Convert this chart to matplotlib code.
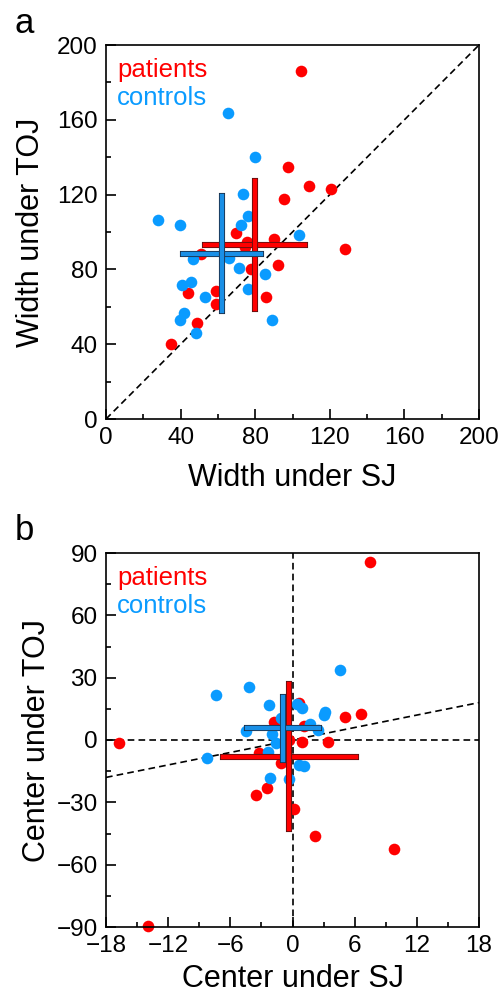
import numpy as np
import matplotlib
matplotlib.use("Agg")
import matplotlib.pyplot as plt
import matplotlib.patheffects as pe
from matplotlib.ticker import MultipleLocator

plt.rcParams['font.family'] = ['Liberation Sans', 'DejaVu Sans']

RED = '#ff0000'
BLUE = '#0a9bff'

# panel a: widths (patients / controls)
pat_sj_w = [104.3, 97.7, 108.9, 120.4, 95.7, 69.5, 75.4, 74.6, 90.0, 128.2,
            50.7, 77.7, 92.1, 44.1, 58.9, 58.9, 85.7, 48.6, 35.0]
pat_toj_w = [185.9, 134.7, 124.7, 122.9, 117.4, 99.5, 94.9, 92.2, 96.2, 90.8,
             88.3, 80.1, 82.1, 67.4, 68.2, 61.5, 65.1, 51.2, 40.0]
con_sj_w = [65.4, 80.0, 73.2, 75.9, 72.5, 27.9, 39.6, 103.6, 66.1, 46.4,
            71.4, 85.5, 40.5, 45.4, 52.9, 76.4, 42.0, 39.5, 88.9, 48.0]
con_toj_w = [163.8, 140.0, 120.1, 108.6, 104.0, 106.2, 103.8, 98.3, 86.3, 85.3,
             80.7, 77.4, 71.7, 73.1, 65.3, 69.4, 56.9, 52.8, 52.8, 45.8]

# mean and SD crosses, [x, y, x_sd, y_sd]
pat_cross_w = [80.0, 93.0, 26.7, 34.2]
con_cross_w = [62.2, 88.4, 21.0, 30.8]

# panel b: centers
pat_sj_c = [7.5, -16.7, -13.9, 5.1, 6.6, -1.8, 1.1, 0.6, 0.9, 3.4,
            -0.3, -3.25, -1.1, -2.5, -3.5, 0.1, 2.2, 9.8]
pat_toj_c = [85.8, -1.6, -89.7, 11.3, 12.5, 8.8, 6.8, 17.7, -1.1, -1.1,
             0.0, -6.4, -10.9, -23.0, -26.5, -33.1, -46.3, -52.4]
con_sj_c = [4.6, -7.4, -4.2, -2.25, 0.4, 0.9, 3.1, 3.0, -1.1, 1.7,
            2.5, -4.5, -2.0, -1.6, -2.4, -8.3, 0.6, 1.1, -2.2, -0.3]
con_toj_c = [33.8, 21.7, 25.7, 17.0, 17.4, 15.6, 13.3, 12.1, 10.5, 7.7,
             4.8, 4.4, 2.7, -1.3, -5.9, -8.8, -12.0, -12.4, -18.2, -18.6]

pat_cross_c = [-0.3, -8.0, 6.4, 35.0]
con_cross_c = [-0.9, 5.6, 3.45, 15.3]

a_ticks = [0, 40, 80, 120, 160, 200]
b_xticks = [-18, -12, -6, 0, 6, 12, 18]
b_yticks = [-90, -60, -30, 0, 30, 60, 90]


def draw_cross(ax, cross, color, edge):
    cx, cy, ex, ey = cross
    fx = [pe.Stroke(linewidth=4.4, foreground=edge, capstyle='projecting'),
          pe.Normal()]
    ax.plot([cx - ex, cx + ex], [cy, cy], color=color, lw=3.2,
            solid_capstyle='projecting', path_effects=fx, zorder=4)
    ax.plot([cx, cx], [cy - ey, cy + ey], color=color, lw=3.2,
            solid_capstyle='projecting', path_effects=fx, zorder=4)


def style_axes(ax):
    for s in ax.spines.values():
        s.set_linewidth(1.2)
    ax.tick_params(which='both', direction='in', top=False, right=False,
                   labelsize=17.5, width=1.2, pad=6)
    ax.tick_params(which='major', length=7)
    ax.tick_params(which='minor', length=3.5)
    ax.text(0.03, 0.965, 'patients', color=RED, fontsize=18.5,
            transform=ax.transAxes, va='top', ha='left')
    ax.text(0.03, 0.89, 'controls', color=BLUE, fontsize=18.5,
            transform=ax.transAxes, va='top', ha='left')


fig = plt.figure(figsize=(5.01, 9.97), dpi=100)
ax1 = fig.add_axes([106/501, 1-419/997, 373/501, 374/997])
ax2 = fig.add_axes([106/501, 1-927/997, 373/501, 374/997])

# a
ax1.plot([0, 200], [0, 200], 'k', lw=1.2, ls=(0, (4, 2.5)), zorder=1)
ax1.scatter(pat_sj_w, pat_toj_w, s=70, color=RED, lw=0, zorder=2)
ax1.scatter(con_sj_w, con_toj_w, s=70, color=BLUE, lw=0, zorder=3)
draw_cross(ax1, pat_cross_w, RED, '#551111')
draw_cross(ax1, con_cross_w, '#1a8fe6', '#1a2a40')
ax1.set_xlim(0, 200)
ax1.set_ylim(0, 200)
ax1.set_xticks(a_ticks)
ax1.set_yticks(a_ticks)
ax1.xaxis.set_minor_locator(MultipleLocator(20))
ax1.yaxis.set_minor_locator(MultipleLocator(20))
ax1.set_xlabel('Width under SJ', fontsize=22, labelpad=10)
ax1.set_ylabel('Width under TOJ', fontsize=22, labelpad=8)
style_axes(ax1)
fig.text(15/501, 1-33/997, 'a', fontsize=25, ha='left', va='baseline')

# b
ax2.axhline(0, color='k', lw=1.2, ls=(0, (4, 2.5)), zorder=1)
ax2.axvline(0, color='k', lw=1.2, ls=(0, (4, 2.5)), zorder=1)
ax2.plot([-18, 18], [-18, 18], 'k', lw=1.2, ls=(0, (4, 2.5)), zorder=1)
ax2.scatter(pat_sj_c, pat_toj_c, s=70, color=RED, lw=0, zorder=2,
            clip_on=False)
ax2.scatter(con_sj_c, con_toj_c, s=70, color=BLUE, lw=0, zorder=3)
draw_cross(ax2, pat_cross_c, RED, '#551111')
draw_cross(ax2, con_cross_c, '#1a8fe6', '#1a2a40')
ax2.set_xlim(-18, 18)
ax2.set_ylim(-90, 90)
ax2.set_xticks(b_xticks)
ax2.set_yticks(b_yticks)
ax2.xaxis.set_minor_locator(MultipleLocator(3))
ax2.yaxis.set_minor_locator(MultipleLocator(15))
ax2.set_xlabel('Center under SJ', fontsize=22, labelpad=5)
ax2.set_ylabel('Center under TOJ', fontsize=22, labelpad=3)
style_axes(ax2)
fig.text(15/501, 1-540/997, 'b', fontsize=25, ha='left', va='baseline')

fig.savefig('out.png', dpi=100)
